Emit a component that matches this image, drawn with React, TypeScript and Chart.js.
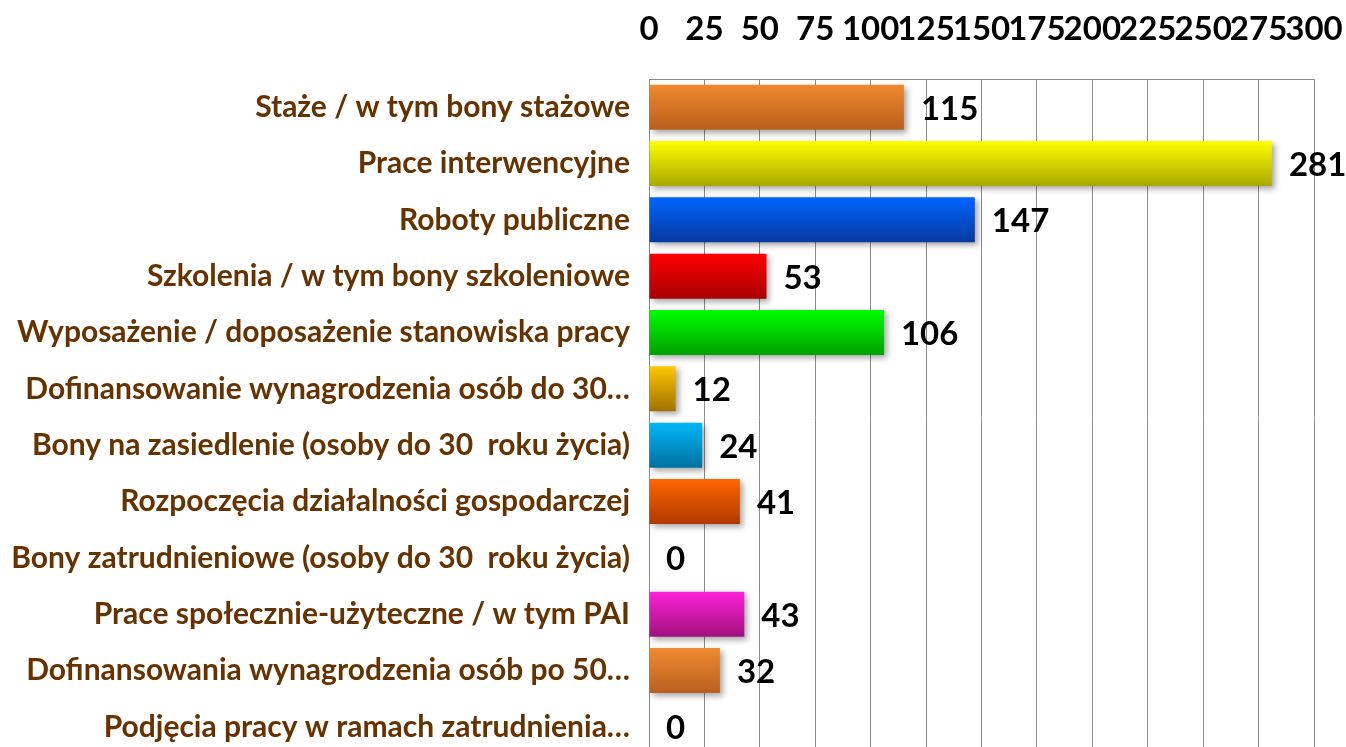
import React, { useEffect, useRef } from "react";
import { Chart, registerables } from "chart.js";

Chart.register(...registerables);

const categories = [
  "Staże / w tym bony stażowe",
  "Prace interwencyjne",
  "Roboty publiczne",
  "Szkolenia / w tym bony szkoleniowe",
  "Wyposażenie / doposażenie stanowiska pracy",
  "Dofinansowanie wynagrodzenia osób do 30…",
  "Bony na zasiedlenie (osoby do 30  roku życia)",
  "Rozpoczęcia działalności gospodarczej",
  "Bony zatrudnieniowe (osoby do 30  roku życia)",
  "Prace społecznie-użyteczne / w tym PAI",
  "Dofinansowania wynagrodzenia osób po 50…",
  "Podjęcia pracy w ramach zatrudnienia…",
];

const values = [115, 281, 147, 53, 106, 12, 24, 41, 0, 43, 32, 0];

const topColors = [
  "#F08A30", "#FFFF00", "#0066FF", "#FF0000", "#00FF00", "#FFC800",
  "#00B8F8", "#FF6600", "#888888", "#FF22D8", "#F08A30", "#888888",
];
const bottomColors = [
  "#B85E1C", "#A8A800", "#0838A0", "#A80000", "#00A000", "#A07000",
  "#0070A0", "#B03800", "#555555", "#A0107F", "#B86020", "#555555",
];

const xTicks = [0, 25, 50, 75, 100, 125, 150, 175, 200, 225, 250, 275, 300];

const FONT = "Lato, 'Open Sans', sans-serif";

export default function App() {
  const ref = useRef<HTMLCanvasElement | null>(null);

  useEffect(() => {
    const canvas = ref.current;
    if (!canvas) return;
    document.body.style.margin = "0";

    const barPlugin = {
      id: "barDeco",
      beforeDatasetsDraw(chart: any) {
        const ctx = chart.ctx;
        ctx.save();
        ctx.shadowColor = "rgba(0,0,0,0.35)";
        ctx.shadowBlur = 6;
        ctx.shadowOffsetX = 3;
        ctx.shadowOffsetY = 3;
      },
      afterDatasetsDraw(chart: any) {
        const ctx = chart.ctx;
        ctx.restore();
        const meta = chart.getDatasetMeta(0);
        ctx.save();
        ctx.font = `bold 33px ${FONT}`;
        ctx.fillStyle = "#000000";
        ctx.textAlign = "left";
        ctx.textBaseline = "middle";
        meta.data.forEach((el: any, i: number) => {
          const v = chart.data.datasets[0].data[i];
          ctx.fillText(String(v), el.x + 17, el.y + 2);
        });
        ctx.restore();
      },
    };

    const chart = new Chart(canvas, {
      type: "bar",
      data: {
        labels: categories,
        datasets: [
          {
            data: values,
            backgroundColor: (c: any) => {
              const ch = c.chart;
              const i = c.dataIndex;
              if (!ch.chartArea || !ch.scales.y || i === undefined) return topColors[i] || "#999";
              const yc = ch.scales.y.getPixelForValue(i);
              const h = 23;
              const g = ch.ctx.createLinearGradient(0, yc - h, 0, yc + h);
              g.addColorStop(0, topColors[i]);
              g.addColorStop(1, bottomColors[i]);
              return g;
            },
            borderWidth: 0,
            barPercentage: 0.8,
            categoryPercentage: 1,
          },
        ],
      },
      options: {
        indexAxis: "y",
        responsive: false,
        animation: false,
        layout: { padding: { left: 0, right: 32, top: 0, bottom: 0 } },
        plugins: { legend: { display: false }, tooltip: { enabled: false } },
        scales: {
          x: {
            position: "top",
            min: 0,
            max: 300,
            afterBuildTicks: (s: any) => {
              s.ticks = xTicks.map((v) => ({ value: v }));
            },
            afterFit: (s: any) => {
              s.height = 79;
              s.paddingLeft = 0;
              s.paddingRight = 0;
            },
            ticks: {
              autoSkip: false,
              maxRotation: 0,
              minRotation: 0,
              padding: 30,
              color: "#000000",
              font: { family: FONT, size: 33, weight: "bold" },
            },
            grid: { color: "#8c8c8c", lineWidth: 1, drawTicks: false },
            border: { color: "#8c8c8c", width: 1 },
          },
          y: {
            afterFit: (s: any) => {
              s.width = 649;
              s.paddingTop = 0;
              s.paddingBottom = 0;
            },
            ticks: {
              padding: 19,
              color: "#663300",
              font: { family: FONT, size: 30, weight: "bold" },
            },
            grid: { display: false, drawTicks: false },
            border: { color: "#8c8c8c", width: 1 },
          },
        },
      },
      plugins: [barPlugin],
    } as any);

    return () => chart.destroy();
  }, []);

  return (
    <div
      style={{
        position: "fixed",
        left: 0,
        top: 0,
        width: 1346,
        height: 747,
        overflow: "hidden",
        background: "#ffffff",
      }}
    >
      <canvas ref={ref} width={1346} height={755} style={{ display: "block" }} />
    </div>
  );
}
